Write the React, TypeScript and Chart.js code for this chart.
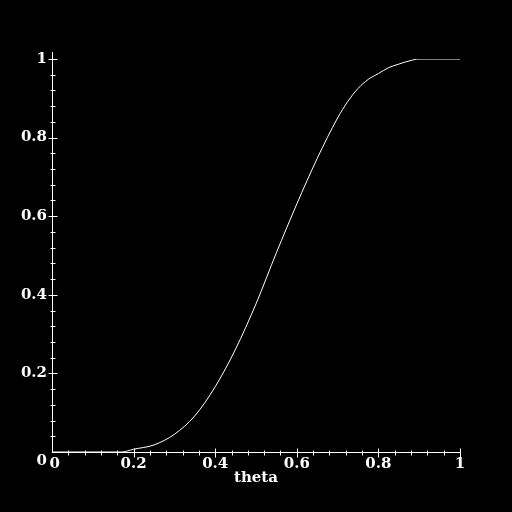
import React, { useEffect, useRef } from "react";
import { Chart, registerables } from "chart.js";

Chart.register(...registerables);

const thetaValues = [0, 0.17, 0.2, 0.25, 0.3, 0.35, 0.4, 0.45, 0.5, 0.55, 0.6, 0.65, 0.7, 0.725, 0.75, 0.775, 0.8, 0.825, 0.85, 0.875, 0.9, 1];
const cdfValues = [0, 0, 0.007, 0.018, 0.045, 0.092, 0.166, 0.262, 0.377, 0.507, 0.631, 0.747, 0.85, 0.892, 0.925, 0.948, 0.963, 0.978, 0.987, 0.995, 1, 1];
const axisTickLabels = ["0", "0.2", "0.4", "0.6", "0.8", "1"];
const xAxisTitle = "theta";

const FONT = { family: "'DejaVu Serif', serif", size: 15, weight: "bold" as const };

const tickMarks = {
  id: "tickMarks",
  afterDraw(chart: any) {
    const ctx = chart.ctx;
    const xs = chart.scales.x;
    const ys = chart.scales.y;
    const x0 = Math.round(xs.getPixelForValue(0)) + 0.5;
    const y0 = Math.round(ys.getPixelForValue(0)) + 0.5;
    ctx.save();
    ctx.strokeStyle = "#ffffff";
    ctx.lineWidth = 1;
    ctx.beginPath();
    ctx.moveTo(x0, ys.getPixelForValue(1) - 7);
    ctx.lineTo(x0, y0);
    for (let i = 0; i <= 25; i++) {
      const v = i / 25;
      const major = i % 5 === 0;
      const px = Math.round(xs.getPixelForValue(v)) + 0.5;
      const py = Math.round(ys.getPixelForValue(v)) + 0.5;
      const len = major ? 4 : 2;
      if (i > 0) {
        ctx.moveTo(px, y0 - len);
        ctx.lineTo(px, y0 + len + 1);
        ctx.moveTo(x0 - len, py);
        ctx.lineTo(x0 + len + 1, py);
      }
    }
    ctx.stroke();
    ctx.restore();
  },
};

export default function App() {
  const ref = useRef<HTMLCanvasElement>(null);
  useEffect(() => {
    if (!ref.current) return;
    const chart = new Chart(ref.current, {
      type: "line",
      data: {
        datasets: [
          {
            data: thetaValues.map((t, i) => ({ x: t, y: cdfValues[i] })),
            borderColor: "#ffffff",
            borderWidth: 1,
            pointRadius: 0,
            cubicInterpolationMode: "monotone",
            fill: false,
          },
        ],
      },
      options: {
        animation: false,
        responsive: false,
        layout: { padding: { left: 0, right: 52, top: 59, bottom: 0 } },
        plugins: { legend: { display: false }, tooltip: { enabled: false } },
        scales: {
          x: {
            type: "linear",
            min: 0,
            max: 1,
            afterFit: (s: any) => {
              s.height = 60;
            },
            grid: { display: false, drawTicks: false },
            border: { display: true, color: "#ffffff", width: 1 },
            ticks: {
              stepSize: 0.2,
              autoSkip: false,
              maxRotation: 0,
              color: "#ffffff",
              font: FONT,
              padding: 3,
              callback: (_v: any, i: number) => (i === 0 ? " " + axisTickLabels[i] : axisTickLabels[i]),
            },
            title: {
              display: true,
              text: xAxisTitle,
              color: "#ffffff",
              font: FONT,
              padding: { top: 0, bottom: 25 },
            },
          },
          y: {
            type: "linear",
            min: 0,
            max: 1,
            afterFit: (s: any) => {
              s.width = 52;
            },
            grid: { display: false, drawTicks: false },
            border: { display: false },
            ticks: {
              stepSize: 0.2,
              autoSkip: false,
              color: "#ffffff",
              font: FONT,
              padding: 5,
              callback: (_v: any, i: number) => (i === 0 ? ["", axisTickLabels[i]] : axisTickLabels[i]),
            },
          },
        },
      },
      plugins: [tickMarks],
    });
    return () => chart.destroy();
  }, []);
  return (
    <div style={{ position: "fixed", left: 0, top: 0, width: "100vw", height: "100vh", background: "#000" }}>
      <canvas ref={ref} width={512} height={512} style={{ display: "block", width: 512, height: 512 }} />
    </div>
  );
}
